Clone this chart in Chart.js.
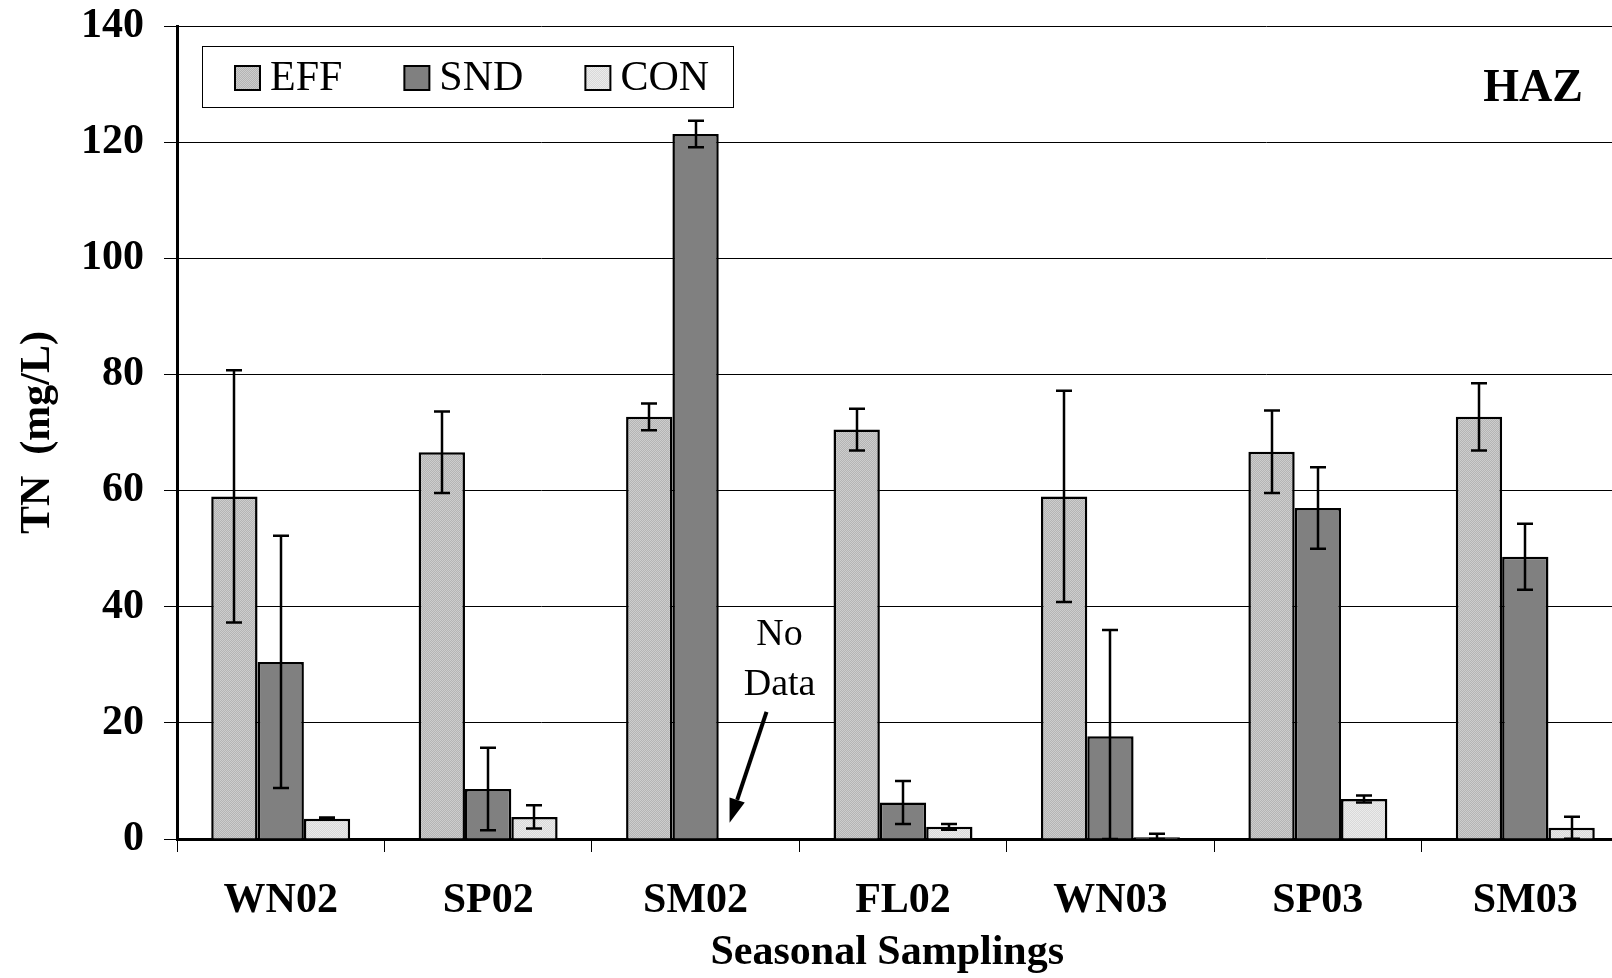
<!DOCTYPE html>
<html>
<head>
<meta charset="utf-8">
<title>TN (mg/L) - HAZ</title>
<script src="https://cdn.jsdelivr.net/npm/chart.js@4.4.1/dist/chart.umd.min.js"></script>
<style>
  html, body { margin: 0; padding: 0; background: #fff; overflow: hidden; }
  #wrap { width: 1640px; height: 978px; }
</style>
</head>
<body>
<div id="wrap"><canvas id="tnChart" width="1640" height="978"></canvas></div>
<script>
// Seasonal samplings and TN values (mg/L)
const seasons = ['WN02', 'SP02', 'SM02', 'FL02', 'WN03', 'SP03', 'SM03'];

const effMean = [59.0, 66.6, 72.7, 70.5, 59.0, 66.7, 72.7];
const effSd   = [21.7, 7.0, 2.3, 3.6, 18.2, 7.1, 5.8];

const sndMean = [30.5, 8.6, 121.4, 6.3, 17.7, 57.0, 48.6];
const sndSd   = [21.7, 7.1, 2.3, 3.7, 18.3, 7.0, 5.7];

const conMean = [3.5, 3.8, null, 2.1, 0.3, 6.9, 1.95];
const conSd   = [0.2, 2.0, null, 0.5, 0.6, 0.6, 1.9];

const yTicks = [0, 20, 40, 60, 80, 100, 120, 140];

const SERIF = '"Liberation Serif", "Times New Roman", serif';

// small checker textures to mimic the dotted fills
function makePattern(c1, c2) {
    const pc = document.createElement('canvas');
    pc.width = 2; pc.height = 2;
    const p = pc.getContext('2d');
    p.fillStyle = c1; p.fillRect(0, 0, 2, 2);
    p.fillStyle = c2; p.fillRect(0, 0, 1, 1); p.fillRect(1, 1, 1, 1);
    return document.getElementById('tnChart').getContext('2d').createPattern(pc, 'repeat');
}

const effFill = makePattern('#b4b4b4', '#cdcdcd');
const sndFill = '#808080';
const conFill = makePattern('#d9d9d9', '#ebebeb');

// --- error bars (symmetric SD) ---
const errorBars = {
    id: 'errorBars',
    afterDatasetsDraw(chart) {
        const { ctx } = chart;
        const yScale = chart.scales.y;
        ctx.save();
        ctx.strokeStyle = '#000';
        ctx.lineWidth = 2.5;
        chart.data.datasets.forEach((ds, di) => {
            const meta = chart.getDatasetMeta(di);
            meta.data.forEach((bar, i) => {
                const v = ds.data[i], sd = ds.sd[i];
                if (v == null || sd == null) return;
                const lo = Math.max(v - sd, 0);
                const yTop = yScale.getPixelForValue(v + sd);
                const yBot = yScale.getPixelForValue(lo);
                const x = Math.round(bar.x);
                ctx.beginPath();
                ctx.moveTo(x, yTop); ctx.lineTo(x, yBot);
                ctx.moveTo(x - 8, yTop); ctx.lineTo(x + 8, yTop);
                ctx.moveTo(x - 8, yBot); ctx.lineTo(x + 8, yBot);
                ctx.stroke();
            });
        });
        ctx.restore();
    }
};

// --- legend box, site tag and "No Data" note ---
const extras = {
    id: 'extras',
    afterDraw(chart) {
        const { ctx, chartArea: ca } = chart;
        const xs = chart.scales.x, ys = chart.scales.y;
        ctx.save();

        // legend
        const lx = ca.left + 25, ly = ca.top + 20;
        ctx.fillStyle = '#fff';
        ctx.fillRect(lx, ly, 531, 61);
        ctx.strokeStyle = '#000';
        ctx.lineWidth = 1;
        ctx.strokeRect(lx + 0.5, ly + 0.5, 531, 61);
        ctx.font = '42px ' + SERIF;
        ctx.textBaseline = 'middle';
        ctx.textAlign = 'left';
        let x = lx + 33;
        chart.data.datasets.forEach(ds => {
            ctx.fillStyle = ds.backgroundColor;
            ctx.fillRect(x, ly + 20, 25, 24);
            ctx.lineWidth = 2;
            ctx.strokeRect(x, ly + 20, 25, 24);
            ctx.fillStyle = '#000';
            ctx.fillText(ds.label, x + 35, ly + 33);
            x += 35 + ctx.measureText(ds.label).width + 62;
        });

        // site tag
        ctx.font = 'bold 46px ' + SERIF;
        ctx.textAlign = 'right';
        ctx.fillText('HAZ', ca.right - 46, ca.top + 63);

        // No Data note for SM02 CON
        const cx = xs.getPixelForValue(2);
        const cw = (xs.right - xs.left) / seasons.length;
        ctx.font = '38px ' + SERIF;
        ctx.textAlign = 'center';
        ctx.fillText('No', cx + 0.405 * cw, ys.getPixelForValue(35.1));
        ctx.fillText('Data', cx + 0.405 * cw, ys.getPixelForValue(26.5));

        const x1 = cx + 0.342 * cw, y1 = ys.getPixelForValue(21.9);
        const x2 = cx + 0.164 * cw, y2 = ys.getPixelForValue(2.8);
        const ang = Math.atan2(y2 - y1, x2 - x1);
        const head = 24, half = 8;
        const bx = x2 - head * Math.cos(ang), by = y2 - head * Math.sin(ang);
        ctx.strokeStyle = '#000';
        ctx.lineWidth = 4;
        ctx.beginPath();
        ctx.moveTo(x1, y1); ctx.lineTo(bx, by);
        ctx.stroke();
        ctx.fillStyle = '#000';
        ctx.beginPath();
        ctx.moveTo(x2, y2);
        ctx.lineTo(bx + half * Math.sin(ang), by - half * Math.cos(ang));
        ctx.lineTo(bx - half * Math.sin(ang), by + half * Math.cos(ang));
        ctx.closePath();
        ctx.fill();

        ctx.restore();
    }
};

Chart.defaults.color = '#000';

new Chart(document.getElementById('tnChart'), {
    type: 'bar',
    data: {
        labels: seasons,
        datasets: [
            { label: 'EFF', data: effMean, sd: effSd, backgroundColor: effFill, borderColor: '#000', borderWidth: 2.5 },
            { label: 'SND', data: sndMean, sd: sndSd, backgroundColor: sndFill, borderColor: '#000', borderWidth: 2.5 },
            { label: 'CON', data: conMean, sd: conSd, backgroundColor: conFill, borderColor: '#000', borderWidth: 2.5 }
        ]
    },
    options: {
        responsive: false,
        animation: false,
        devicePixelRatio: 1,
        layout: { padding: { top: 26, right: 11, left: 0, bottom: 0 } },
        datasets: { bar: { categoryPercentage: 0.67, barPercentage: 1.0 } },
        plugins: {
            legend: { display: false },
            tooltip: { enabled: false },
            title: { display: false }
        },
        scales: {
            x: {
                grid: { display: true, drawOnChartArea: false, drawTicks: true, tickLength: 13, color: '#000', lineWidth: 1, offset: true },
                border: { display: true, color: '#000', width: 3 },
                ticks: { font: { family: SERIF, size: 42, weight: 'bold' }, padding: 24, maxRotation: 0, autoSkip: false },
                title: { display: true, text: 'Seasonal Samplings\u00a0\u00a0\u00a0', font: { family: SERIF, size: 42, weight: 'bold' }, padding: { top: 0, bottom: 0 } },
                afterFit(scale) { scale.height = 139; }
            },
            y: {
                min: 0,
                max: 140,
                afterBuildTicks(scale) { scale.ticks = yTicks.map(v => ({ value: v })); },
                grid: { color: '#000', lineWidth: 1, tickLength: 13, drawTicks: true },
                border: { display: true, color: '#000', width: 3 },
                ticks: { font: { family: SERIF, size: 42, weight: 'bold' }, padding: 20 },
                title: { display: true, text: 'TN  (mg/L)', font: { family: SERIF, size: 42, weight: 'bold' }, padding: { top: 13, bottom: 0 } },
                afterFit(scale) {
                    scale.width = 177;
                    scale.paddingTop = 0;
                    scale.paddingBottom = 0;
                }
            }
        }
    },
    plugins: [errorBars, extras]
});
</script>
</body>
</html>
